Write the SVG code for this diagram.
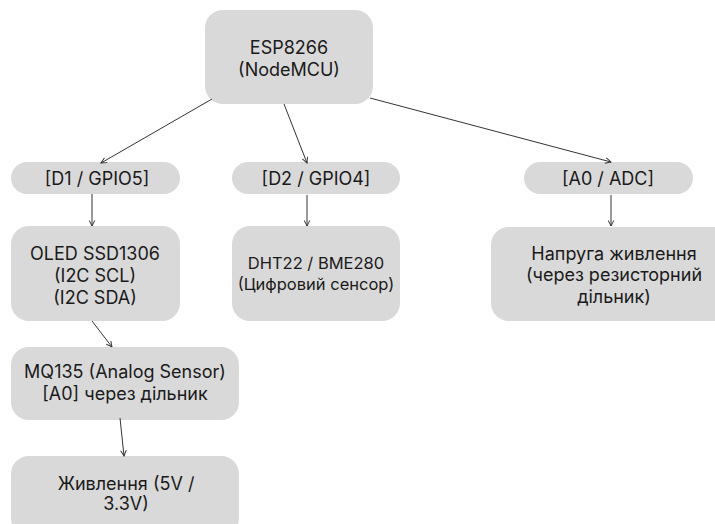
<svg xmlns="http://www.w3.org/2000/svg" width="715" height="524" viewBox="0 0 715 524">
<defs>
<style>
.n{fill:#d9d9d9;}
.t{font-family:Inter,"Noto Sans","Liberation Sans",sans-serif;font-size:18px;fill:#1a1a1a;text-anchor:middle;dominant-baseline:central;}
.s{font-size:16.5px;}
.c{stroke:#333;stroke-width:1;fill:none;marker-end:url(#a);}
</style>
<marker id="a" viewBox="0 0 10 10" refX="9" refY="5" markerWidth="7" markerHeight="7" markerUnits="userSpaceOnUse" orient="auto">
<path d="M1,1 L9,5 L1,9" fill="none" stroke="#333" stroke-width="1.4"/>
</marker>
</defs>
<rect width="715" height="524" fill="#ffffff"/>
<g id="esp"><rect class="n" x="205" y="10" width="168" height="94" rx="18"/><text class="t" x="289" y="47">ESP8266</text><text class="t" x="289" y="69">(NodeMCU)</text></g>
<g id="d1"><rect class="n" x="11" y="162" width="169" height="32" rx="16"/><text class="t" x="97" y="178">[D1 / GPIO5]</text></g>
<g id="d2"><rect class="n" x="232" y="162" width="168" height="32" rx="16"/><text class="t" x="316" y="178">[D2 / GPIO4]</text></g>
<g id="a0"><rect class="n" x="524" y="162" width="169" height="32" rx="16"/><text class="t" x="608" y="178">[A0 / ADC]</text></g>
<g id="oled"><rect class="n" x="11" y="226" width="169" height="95" rx="18"/><text class="t" x="95" y="253">OLED SSD1306</text><text class="t" x="95" y="275">(I2C SCL)</text><text class="t" x="95" y="297">(I2C SDA)</text></g>
<g id="dht"><rect class="n" x="232" y="226" width="168" height="95" rx="18"/><text class="t s" x="316" y="263">DHT22 / BME280</text><text class="t s" x="316" y="283.5">(Цифровий сенсор)</text></g>
<g id="volt"><rect class="n" x="491" y="227" width="246" height="94" rx="18"/><text class="t" x="614" y="253">Напруга живлення</text><text class="t" x="614" y="274.5">(через резисторний</text><text class="t" x="614" y="296">дільник)</text></g>
<g id="mq"><rect class="n" x="11" y="347" width="228" height="73" rx="18"/><text class="t" x="125" y="371">MQ135 (Analog Sensor)</text><text class="t" x="125" y="393">[A0] через дільник</text></g>
<g id="pwr"><rect class="n" x="11" y="456" width="228" height="80" rx="18"/><text class="t" x="126" y="483">Живлення (5V /</text><text class="t" x="126" y="503.5">3.3V)</text></g>
<g id="connectors">
<line class="c" x1="212" y1="99" x2="101" y2="163"/>
<line class="c" x1="284" y1="104" x2="307" y2="163"/>
<line class="c" x1="370" y1="98" x2="611" y2="162"/>
<line class="c" x1="92" y1="194" x2="92" y2="226"/>
<line class="c" x1="307" y1="195" x2="307" y2="226"/>
<line class="c" x1="611" y1="195" x2="611" y2="226"/>
<line class="c" x1="92" y1="321" x2="112" y2="347"/>
<line class="c" x1="120" y1="418" x2="124" y2="456"/>
</g>
</svg>
